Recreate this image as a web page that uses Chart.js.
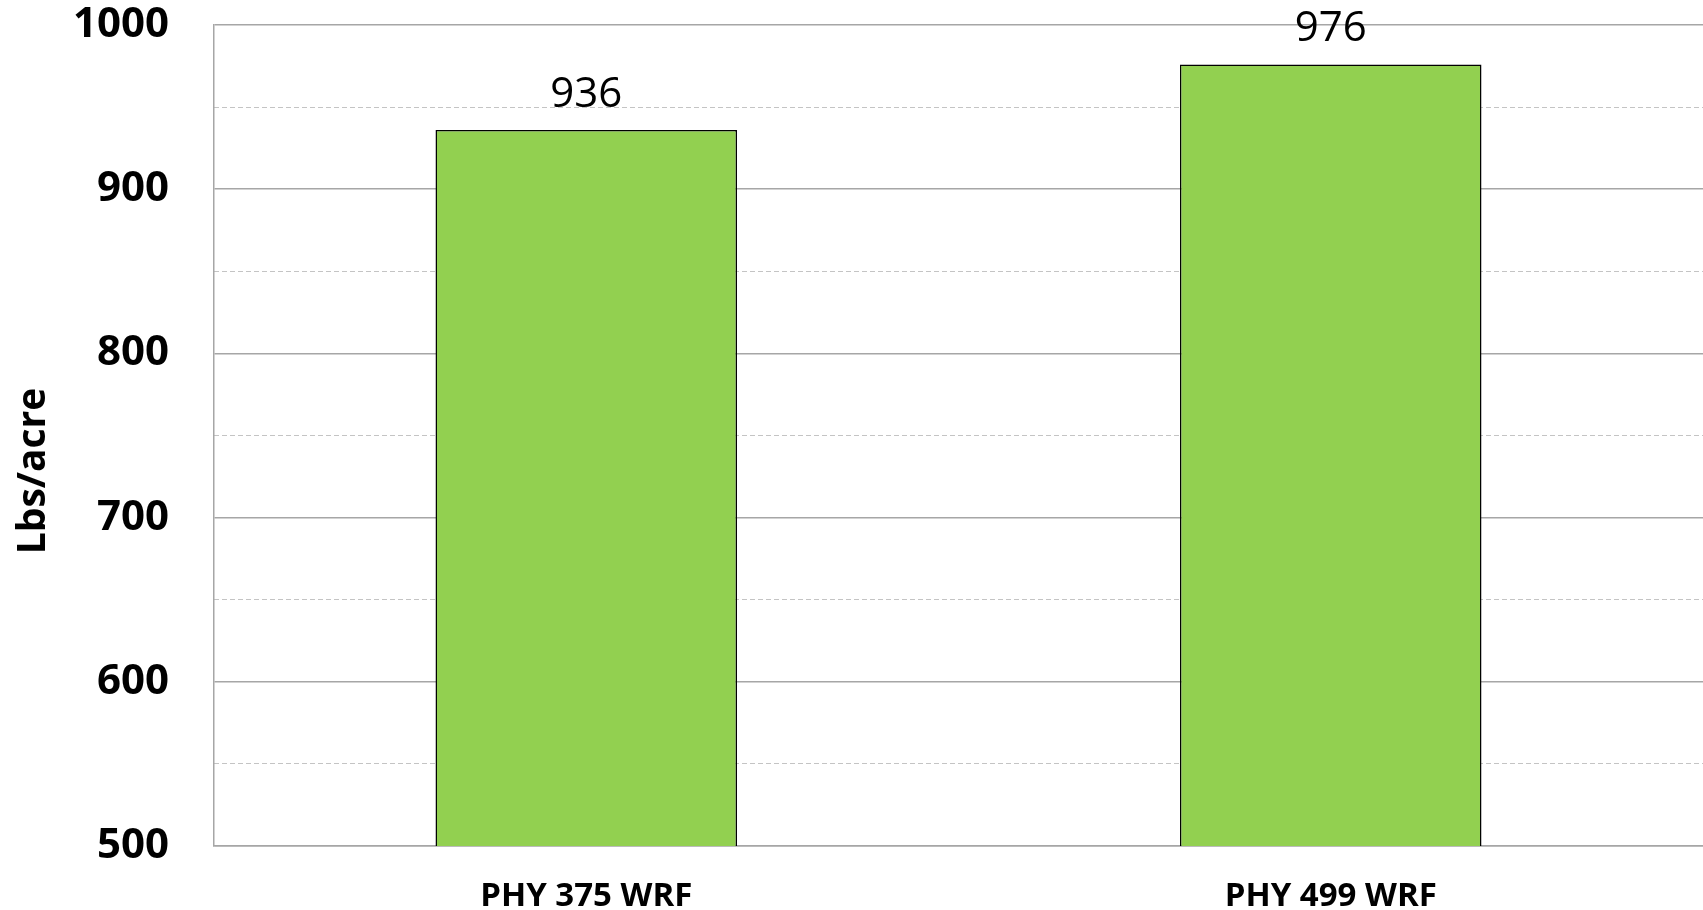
<!DOCTYPE html>
<html>
<head>
<meta charset="utf-8">
<script src="https://cdn.jsdelivr.net/npm/chart.js@4/dist/chart.umd.min.js"></script>
<style>
  html, body { margin: 0; padding: 0; background: #fff; }
  #wrap { width: 1703px; height: 910px; position: relative; }
</style>
</head>
<body>
<div id="wrap"><canvas id="c" width="1703" height="910"></canvas></div>
<script>
const categories = ['PHY 375 WRF', 'PHY 499 WRF'];
const yieldValues = [936, 976];
const valueLabels = ['936', '976'];
const yAxisTitle = 'Lbs/acre';
const yMin = 500;
const yMax = 1000;

const valueLabelPlugin = {
  id: 'valueLabels',
  afterDatasetsDraw(chart) {
    const ctx = chart.ctx;
    const meta = chart.getDatasetMeta(0);
    ctx.save();
    ctx.font = '42px "Open Sans"';
    ctx.fillStyle = '#000';
    ctx.textAlign = 'center';
    ctx.textBaseline = 'alphabetic';
    meta.data.forEach((bar, i) => {
      ctx.fillText(valueLabels[i], bar.x, bar.y - 23);
    });
    ctx.restore();
  }
};

new Chart(document.getElementById('c'), {
  type: 'bar',
  data: {
    labels: categories,
    datasets: [{
      data: yieldValues,
      backgroundColor: '#92d050',
      borderColor: '#000000',
      borderWidth: 1.5,
      barPercentage: 0.405,
      categoryPercentage: 1.0
    }]
  },
  options: {
    responsive: false,
    animation: false,
    layout: { padding: { top: 0, left: 0, right: 0, bottom: 0 } },
    plugins: {
      legend: { display: false },
      tooltip: { enabled: false }
    },
    scales: {
      x: {
        grid: { display: false, drawTicks: false },
        border: { display: true, color: '#a6a6a6', width: 1.5 },
        ticks: {
          color: '#000',
          font: { family: 'Open Sans', weight: 'bold', size: 33 },
          padding: 31,
          maxRotation: 0
        },
        afterFit: s => { s.height = 64; }
      },
      y: {
        min: yMin,
        max: yMax,
        position: 'left',
        grid: {
          drawTicks: false,
          lineWidth: 1.5,
          color: c => (c.tick && c.tick.value % 100 === 0) ? '#a6a6a6' : 'rgba(0,0,0,0)'
        },
        border: { display: true, color: '#a6a6a6', width: 1.5 },
        ticks: {
          stepSize: 50,
          color: '#000',
          font: { family: 'Open Sans', weight: 'bold', size: 42 },
          padding: 45,
          callback: v => (v % 100 === 0 ? String(v) : '')
        },
        title: {
          display: true,
          text: yAxisTitle + '\u00A0'.repeat(7),
          color: '#000',
          font: { family: 'Open Sans', weight: 'bold', size: 39 },
          padding: { top: 10, bottom: 0 }
        },
        afterFit: s => { s.width = 214; s.paddingTop = 25; s.paddingBottom = 0; }
      },
      y2: {
        min: yMin,
        max: yMax,
        position: 'left',
        grid: {
          drawTicks: false,
          lineWidth: 1,
          color: c => (c.tick && c.tick.value % 100 !== 0) ? '#c4c4c4' : 'rgba(0,0,0,0)'
        },
        border: { display: false, dash: [5, 3] },
        ticks: { display: false, stepSize: 50 },
        afterFit: s => { s.width = 0; s.paddingTop = 0; s.paddingBottom = 0; }
      }
    }
  },
  plugins: [valueLabelPlugin]
});
</script>
</body>
</html>
